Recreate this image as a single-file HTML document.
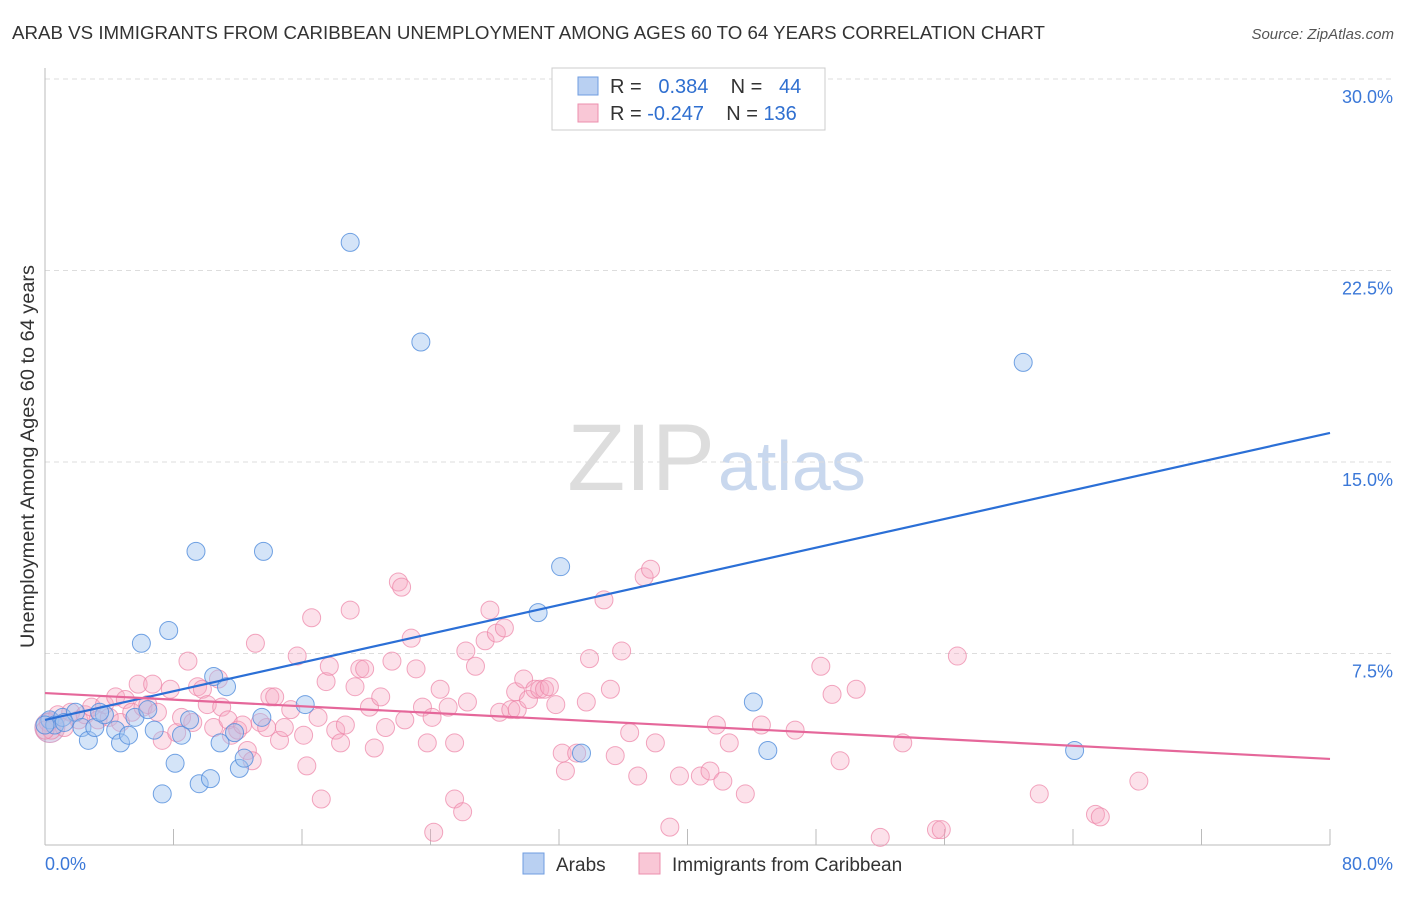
<!DOCTYPE html>
<html><head><meta charset="utf-8"><style>
body{margin:0;background:#fff;font-family:"Liberation Sans",sans-serif;}
svg text{font-family:"Liberation Sans",sans-serif;}
</style></head><body>
<svg width="1406" height="892" viewBox="0 0 1406 892">
<text x="12" y="39" font-size="18.5" fill="#333" textLength="1033" lengthAdjust="spacingAndGlyphs">ARAB VS IMMIGRANTS FROM CARIBBEAN UNEMPLOYMENT AMONG AGES 60 TO 64 YEARS CORRELATION CHART</text>
<text x="1394" y="39" font-size="15" fill="#555" text-anchor="end" font-style="italic">Source: ZipAtlas.com</text>
<text x="715" y="490" font-size="95" fill="#ddd" text-anchor="end" font-family="Liberation Serif">ZIP</text>
<text x="718" y="490" font-size="70" fill="#c9d8ee">atlas</text>
<g id="grid"></g>
<g id="axes"></g>
<g id="pts"></g>
<g id="lines"></g>
<text x="34" y="648" font-size="19" fill="#333" textLength="383" lengthAdjust="spacingAndGlyphs" transform="rotate(-90 34 648)">Unemployment Among Ages 60 to 64 years</text>
<g>
<rect x="552" y="68" width="273" height="62" fill="#fff" stroke="#ccc"/>
<rect x="578" y="77" width="20" height="18" fill="#b9d0f2" stroke="#6f9de0"/>
<rect x="578" y="104" width="20" height="18" fill="#f9c7d6" stroke="#ec8fae"/>
<text x="610" y="93" font-size="20" fill="#333" xml:space="preserve">R =  <tspan fill="#2f6fd0"> 0.384</tspan>    N =  <tspan fill="#2f6fd0"> 44</tspan></text>
<text x="610" y="120" font-size="20" fill="#333" xml:space="preserve">R = <tspan fill="#2f6fd0">-0.247</tspan>    N = <tspan fill="#2f6fd0">136</tspan></text>
</g>
<g>
<rect x="523" y="853" width="21" height="21" fill="#b9d0f2" stroke="#6f9de0"/>
<text x="556" y="871" font-size="19" fill="#333">Arabs</text>
<rect x="639" y="853" width="21" height="21" fill="#f9c7d6" stroke="#ec8fae"/>
<text x="672" y="871" font-size="19" fill="#333">Immigrants from Caribbean</text>
</g>
</svg>
<script>
const yTicks=[7.5,15,22.5,30];
const yTickLabels=["7.5%","15.0%","22.5%","30.0%"];
const xTicks=[0,8,16,24,32,40,48,56,64,72,80];
const xEndLabels=["0.0%","80.0%"];
const blueX=[0.3,0.6,1.1,1.9,2.3,2.7,3.1,3.7,4.4,4.7,5.2,5.6,6.0,6.4,6.8,7.3,7.7,8.1,8.5,9.0,9.4,9.6,10.3,10.5,10.9,11.3,11.8,12.1,12.4,13.5,13.6,16.2,19.0,23.4,30.7,32.1,33.4,44.1,45.0,60.9,64.1,0.0,1.2,3.4];
const blueY=[4.9,4.7,5.0,5.2,4.6,4.1,4.6,5.1,4.5,4.0,4.3,5.0,7.9,5.3,4.5,2.0,8.4,3.2,4.3,4.9,11.5,2.4,2.6,6.6,4.0,6.2,4.4,3.0,3.4,5.0,11.5,5.5,23.6,19.7,9.1,10.9,3.6,5.6,3.7,18.9,3.7,4.7,4.8,5.2];
const pinkX=[0.2,0.4,0.8,1.2,1.6,2.1,2.5,2.9,3.3,3.7,4.0,4.4,4.7,5.0,5.4,5.8,6.1,6.4,6.7,7.0,7.3,7.8,8.2,8.5,8.9,9.2,9.5,9.8,10.1,10.5,10.8,11.0,11.4,11.6,12.0,12.3,12.6,12.9,13.1,13.4,13.8,14.0,14.3,14.6,14.9,15.3,15.7,16.1,16.3,16.6,17.0,17.2,17.5,17.7,18.1,18.4,18.7,19.0,19.3,19.6,19.9,20.2,20.5,20.9,21.2,21.6,22.0,22.2,22.4,22.8,23.1,23.5,23.8,24.1,24.2,24.6,25.1,25.5,25.5,26.0,26.2,26.3,26.8,27.4,27.7,28.1,28.3,28.6,29.0,29.3,29.4,29.8,30.1,30.5,30.8,31.1,31.4,31.8,32.2,32.4,33.1,33.7,33.9,34.8,35.2,35.5,35.9,36.4,36.9,37.3,37.7,38.0,38.9,39.5,40.8,41.4,41.8,42.2,42.6,43.6,44.6,46.7,48.3,49.0,49.5,50.5,52.0,53.4,55.5,55.8,56.8,61.9,65.4,65.7,68.1,0.0];
const pinkY=[4.8,4.5,5.1,4.6,5.2,4.9,5.1,5.4,4.9,5.5,5.0,5.8,4.8,5.7,5.2,6.3,5.4,5.5,6.3,5.2,4.1,6.1,4.4,5.0,7.2,4.8,6.2,6.1,5.5,4.6,6.5,5.4,4.9,4.3,4.5,4.7,3.7,3.3,7.9,4.8,4.6,5.8,5.8,4.1,4.6,5.3,7.4,4.3,3.1,8.9,5.0,1.8,6.4,7.0,4.5,4.0,4.7,9.2,6.2,6.9,6.9,5.4,3.8,5.8,4.6,7.2,10.3,10.1,4.9,8.1,6.9,5.4,4.0,5.0,0.5,6.1,5.4,4.0,1.8,1.3,7.6,5.6,7.0,8.0,9.2,8.3,5.2,8.5,5.3,6.0,5.3,6.5,5.7,6.1,6.1,6.1,6.2,5.5,3.6,2.9,3.6,5.6,7.3,9.6,6.1,3.5,7.6,4.4,2.7,10.5,10.8,4.0,0.7,2.7,2.7,2.9,4.7,2.5,4.0,2.0,4.7,4.5,7.0,5.9,3.3,6.1,0.3,4.0,0.6,0.6,7.4,2.0,1.2,1.1,2.5,4.5];
const blueLine=[4.9,16.14];
const pinkLine=[5.95,3.37];
const NS='http://www.w3.org/2000/svg';
const X0=45,X1=1330,Y0=845,Y30=79;
const sx=v=>X0+(v/80)*(X1-X0);
const sy=v=>Y0-(v/30)*(Y0-Y30);
function mk(tag,attrs,parent){const e=document.createElementNS(NS,tag);for(const k in attrs)e.setAttribute(k,attrs[k]);parent.appendChild(e);return e;}
const grid=document.getElementById('grid'),axes=document.getElementById('axes'),pts=document.getElementById('pts'),lines=document.getElementById('lines');
yTicks.forEach((t,i)=>{
 const l=mk('line',{x1:X0,x2:1394,y1:sy(t),y2:sy(t),stroke:'#ddd','stroke-dasharray':'5,4'},grid);
 
 
 const tx=mk('text',{x:1393,y:sy(t)+24,'font-size':18,fill:'#3b78d8','text-anchor':'end'},grid);
 tx.textContent=yTickLabels[i];
 
 
});
const ya=mk('line',{x1:X0,x2:X0,y1:68,y2:Y0,stroke:'#bbb'},axes);


const xa=mk('line',{x1:X0,x2:X1,y1:Y0,y2:Y0,stroke:'#bbb'},axes);


xTicks.forEach(t=>{
 const l=mk('line',{x1:sx(t),x2:sx(t),y1:829,y2:Y0,stroke:'#bbb'},axes);
 
 
});
const xl0=mk('text',{x:45,y:870,'font-size':18,fill:'#3b78d8'},axes);xl0.textContent=xEndLabels[0];


const xl1=mk('text',{x:1393,y:870,'font-size':18,fill:'#3b78d8','text-anchor':'end'},axes);xl1.textContent=xEndLabels[1];


const big=mk('circle',{cx:sx(0.3),cy:sy(4.6),r:15,fill:'rgba(160,140,200,0.35)',stroke:'rgba(200,120,170,0.6)'},pts);


pinkX.forEach((x,i)=>{
 const c=mk('circle',{cx:sx(x),cy:sy(pinkY[i]),r:9,fill:'rgba(246,170,195,0.35)',stroke:'rgba(236,130,165,0.7)','stroke-width':1},pts);
 
 
});
blueX.forEach((x,i)=>{
 const c=mk('circle',{cx:sx(x),cy:sy(blueY[i]),r:9,fill:'rgba(160,195,240,0.45)',stroke:'rgba(80,140,220,0.8)','stroke-width':1},pts);
 
 
});
const bl=mk('line',{x1:sx(0),x2:sx(80),y1:sy(blueLine[0]),y2:sy(blueLine[1]),stroke:'#2b6fd6','stroke-width':2.2},lines);


const pl=mk('line',{x1:sx(0),x2:sx(80),y1:sy(pinkLine[0]),y2:sy(pinkLine[1]),stroke:'#e5679a','stroke-width':2.2},lines);


</script>
</body></html>
